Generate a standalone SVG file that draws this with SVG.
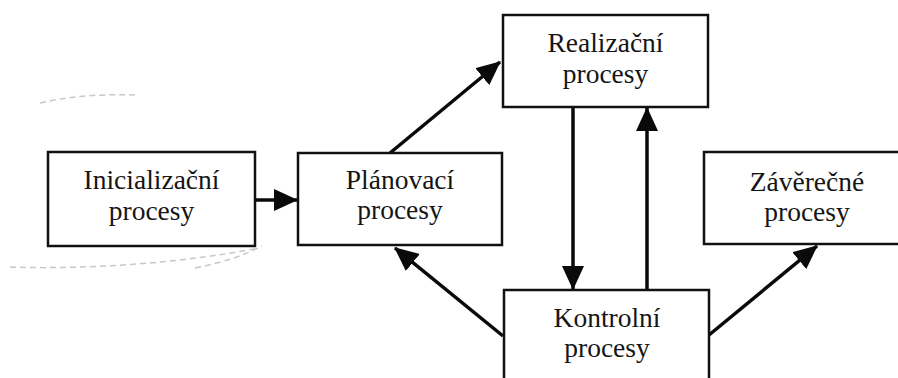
<svg xmlns="http://www.w3.org/2000/svg" width="898" height="378" viewBox="0 0 898 378">
<style>
.box{fill:#fff;stroke:#111;stroke-width:2.5}
.t{font-family:"Liberation Serif","Times New Roman",serif;font-size:27.5px;fill:#151515;text-anchor:middle}
.c{stroke:#0a0a0a;stroke-width:3.5;fill:none}
.faint{stroke:#c8c8c8;stroke-width:1.5;fill:none;stroke-dasharray:6 4}
</style>
<defs>
<marker id="ah" markerUnits="userSpaceOnUse" markerWidth="24" markerHeight="22" refX="23" refY="11" orient="auto">
<path d="M0,0 L24,11 L0,22 z" fill="#0a0a0a"/>
</marker>
</defs>
<rect width="898" height="378" fill="#fff"/>
<g id="scan-marks">
<path class="faint" d="M10,267 C90,270 190,262 258,248"/>
<path class="faint" d="M195,268 C225,262 245,255 262,246"/>
<path class="faint" d="M40,103 C70,96 100,94 135,95"/>
</g>
<g id="connectors">
<line class="c" x1="256" y1="200" x2="297" y2="200" marker-end="url(#ah)"/>
<line class="c" x1="390" y1="153" x2="500" y2="62" marker-end="url(#ah)"/>
<line class="c" x1="573" y1="107" x2="573" y2="289" marker-end="url(#ah)"/>
<line class="c" x1="647" y1="290" x2="647" y2="108" marker-end="url(#ah)"/>
<line class="c" x1="503" y1="336" x2="395" y2="248" marker-end="url(#ah)"/>
<line class="c" x1="709" y1="335" x2="817" y2="246" marker-end="url(#ah)"/>
</g>
<g id="inicializacni">
<rect class="box" x="48" y="152" width="207" height="94"/>
<text class="t" x="151.5" y="189">Inicializační</text>
<text class="t" x="151.5" y="220">procesy</text>
</g>
<g id="planovaci">
<rect class="box" x="298" y="153" width="204" height="92"/>
<text class="t" x="400" y="189">Plánovací</text>
<text class="t" x="400" y="219">procesy</text>
</g>
<g id="realizacni">
<rect class="box" x="503" y="15" width="205" height="92"/>
<text class="t" x="605.5" y="52">Realizační</text>
<text class="t" x="605.5" y="83">procesy</text>
</g>
<g id="kontrolni">
<rect class="box" x="504" y="290" width="205" height="100"/>
<text class="t" x="607" y="327">Kontrolní</text>
<text class="t" x="607" y="357">procesy</text>
</g>
<g id="zaverecne">
<rect class="box" x="704" y="152" width="210" height="92"/>
<text class="t" x="807" y="191">Závěrečné</text>
<text class="t" x="807" y="221">procesy</text>
</g>
</svg>
